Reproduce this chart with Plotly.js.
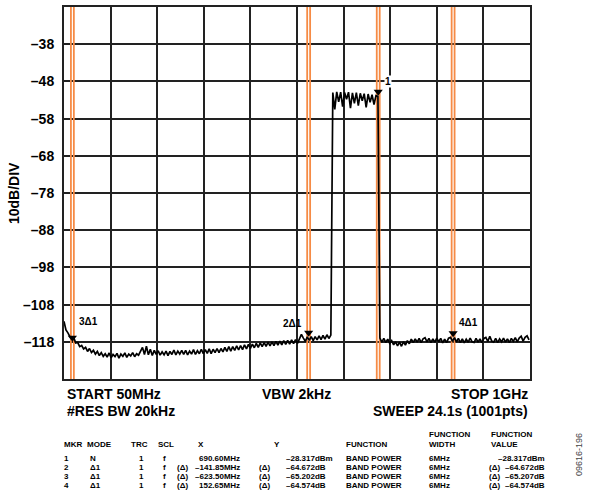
<!DOCTYPE html>
<html>
<head>
<meta charset="utf-8">
<script src="https://cdn.plot.ly/plotly-3.0.1.min.js"></script>
<style>html,body{margin:0;padding:0;background:#fff;}#chart{width:597px;height:498px;}</style>
</head>
<body>
<div id="chart"></div>
<script>
// ---- DATA ----
const sweepStartMHz = 50;
const sweepStopMHz = 1000;
const sweepStepMHz = 4;
const traceLevelDbm = [
  -112.5, -114.8, -115.6, -116.6, -116.9,
  -117.0, -118.3, -118.2, -119.3, -119.0, -119.9, -119.5, -120.6,
  -119.8, -120.9, -120.3, -121.3, -120.6, -121.7, -120.9, -121.9,
  -121.2, -122.1, -121.0, -122.3, -121.4, -122.0, -121.1, -122.4, -121.3, -121.9,
  -121.0, -122.2, -121.3, -121.8, -120.9, -122.0, -121.2, -121.6, -120.6, -119.5,
  -121.4, -119.2, -121.5, -120.0, -121.7, -120.3, -121.4, -120.4, -121.6, -120.7,
  -121.5, -120.5, -121.7, -120.6, -121.4, -120.2, -121.5, -120.5, -121.3, -120.3,
  -121.4, -120.3, -121.5, -120.5, -121.3, -120.1, -121.4, -120.4, -121.2, -120.0,
  -121.2, -120.1, -121.1, -119.9, -121.2, -120.0, -120.9, -119.8, -120.9, -119.8,
  -120.7, -119.5, -120.6, -119.3, -120.5, -119.3, -120.3, -119.1, -120.2, -119.0,
  -120.1, -118.8, -119.9, -118.7, -119.8, -118.6, -119.6, -118.4, -119.5, -118.3,
  -119.3, -118.2, -119.2, -118.1, -119.1, -118.0, -119.0, -117.9, -118.9, -117.8,
  -118.8, -117.7, -118.7, -117.6, -118.6, -117.5, -118.5, -117.4, -118.4, -117.3,
  -116.0, -117.0, -117.9, -116.7, -117.6, -116.6, -117.7, -116.6, -117.5, -116.4,
  -117.4, -116.3, -117.3, -116.1, -117.1, -116.2,
  -51.0, -55.5, -50.8, -53.5, -50.9, -54.8, -51.0, -52.8, -50.9, -55.2,
  -51.1, -53.9, -51.0, -54.5, -51.2, -53.2, -51.3, -55.0, -51.4, -53.6,
  -51.6, -54.2, -51.8, -52.0,
  -117.0, -118.1, -117.1, -118.2, -117.3, -118.4, -117.7, -118.8, -118.0, -119.1,
  -118.1, -119.2, -118.0, -118.9, -117.7, -118.5, -117.3, -118.2, -117.2, -118.1,
  -117.1, -118.2, -117.2, -116.9, -118.0, -117.1, -118.2, -117.2, -118.1, -117.0,
  -118.0, -117.1, -118.3, -117.3, -118.2, -117.0, -116.8, -117.9, -116.9, -118.0,
  -117.1, -118.2, -117.2, -118.3, -117.3, -118.1, -117.0, -118.0, -118.2, -117.1,
  -118.1, -117.2, -118.2, -117.1, -116.8, -117.9, -116.5, -117.8, -118.1, -117.1,
  -118.2, -117.2, -118.0, -117.0, -118.1, -117.2, -118.2, -117.1, -117.9, -116.9,
  -118.0, -117.0, -116.5, -117.8, -116.8, -116.4, -117.5
];
const refLevelDbm = -28;
const dbPerDiv = 10;
const yTickVals = [-38, -48, -58, -68, -78, -88, -98, -108, -118];
const yTickText = ['–38', '–48', '–58', '–68', '–78', '–88', '–98', '–108', '–118'];

const markerFreqMHz = [690.6, 548.75, 67.1, 843.25];
const markerLevelDbm = [-50.8, -115.6, -116.9, -115.7];
const markerLabels = ['1', '2Δ1', '3Δ1', '4Δ1'];
const bandWidthMHz = 6;

const infoLeft = ['START 50MHz', '#RES BW 20kHz'];
const infoCenter = ['VBW 2kHz'];
const infoRight = ['STOP 1GHz', 'SWEEP 24.1s (1001pts)'];

const tblMkr = ['1', '2', '3', '4'];
const tblMode = ['N', 'Δ1', 'Δ1', 'Δ1'];
const tblTrc = ['1', '1', '1', '1'];
const tblScl = ['f', 'f', 'f', 'f'];
const tblXDelta = ['', '(Δ)', '(Δ)', '(Δ)'];
const tblX = ['690.60MHz', '–141.85MHz', '–623.50MHz', '152.65MHz'];
const tblYDelta = ['', '(Δ)', '(Δ)', '(Δ)'];
const tblY = ['–28.317dBm', '–64.672dB', '–65.202dB', '–64.574dB'];
const tblFunc = ['BAND POWER', 'BAND POWER', 'BAND POWER', 'BAND POWER'];
const tblFWidth = ['6MHz', '6MHz', '6MHz', '6MHz'];
const tblFVDelta = ['', '(Δ)', '(Δ)', '(Δ)'];
const tblFValue = ['–28.317dBm', '–64.672dB', '–65.207dB', '–64.574dB'];
const figureId = '09616-196';

// ---- LAYOUT GEOMETRY ----
const W = 597, H = 498;
const L = 64, R = 530, T = 7, B = 379;
const px = x => (x - L) / (R - L);
const py = y => (B - y) / (B - T);

const freqMHz = traceLevelDbm.map((_, i) => sweepStartMHz + i * sweepStepMHz);
const yMin = refLevelDbm - 10 * dbPerDiv, yMax = refLevelDbm;

// band-power orange lines
const bx = [], by = [];
markerFreqMHz.forEach(f => {
  [f - bandWidthMHz / 2, f + bandWidthMHz / 2].forEach(v => {
    bx.push(v, v, null); by.push(yMin, yMax, null);
  });
});

const traces = [
  {x: bx, y: by, mode: 'lines', line: {color: '#f68b45', width: 1.8}, hoverinfo: 'skip', showlegend: false},
  {x: freqMHz, y: traceLevelDbm, mode: 'lines', line: {color: '#000', width: 1.7}, showlegend: false},
  {x: markerFreqMHz, y: markerLevelDbm, mode: 'markers',
   marker: {symbol: 'triangle-down', size: 8, color: '#000'}, showlegend: false}
];

const ann = [];
const bold = s => '<b>' + s + '</b>';
const F = 'Liberation Sans, Arial, sans-serif';

// marker labels
const mShift = [[10, 10], [-16, 9], [16, 16], [15, 11]];
markerLabels.forEach((t, i) => {
  ann.push({x: markerFreqMHz[i], y: markerLevelDbm[i], xref: 'x', yref: 'y', text: bold(t),
    showarrow: false, xshift: mShift[i][0], yshift: mShift[i][1],
    font: {family: F, size: 10, color: '#000'}, bgcolor: i === 0 ? '#fff' : 'rgba(0,0,0,0)', borderpad: 0});
});

// y title
ann.push({x: px(14), y: 0.5, xref: 'paper', yref: 'paper', text: bold('10dB/DIV'), textangle: -90,
  showarrow: false, xanchor: 'center', yanchor: 'middle', font: {family: F, size: 14, color: '#000'}});

// info rows below plot
const infoY = [394, 411];
infoLeft.forEach((t, i) => ann.push({x: px(65), y: py(infoY[i]), xref: 'paper', yref: 'paper', text: bold(t),
  showarrow: false, xanchor: 'left', yanchor: 'middle', font: {family: F, size: 14, color: '#000'}}));
infoCenter.forEach((t, i) => ann.push({x: px(296), y: py(infoY[i]), xref: 'paper', yref: 'paper', text: bold(t),
  showarrow: false, xanchor: 'center', yanchor: 'middle', font: {family: F, size: 14, color: '#000'}}));
infoRight.forEach((t, i) => ann.push({x: px(530), y: py(infoY[i]), xref: 'paper', yref: 'paper', text: bold(t),
  showarrow: false, xanchor: 'right', yanchor: 'middle', font: {family: F, size: 14, color: '#000'}}));

// table
const TS = 8;
function cell(t, x, y, anchor) {
  if (!t) return;
  ann.push({x: px(x), y: py(y), xref: 'paper', yref: 'paper', text: bold(t), showarrow: false,
    xanchor: anchor, yanchor: 'middle', font: {family: F, size: TS, color: '#000'}, borderpad: 0});
}
const hdrY = 444, hdrY2 = 434.5;
cell('MKR', 63, hdrY, 'left');
cell('MODE', 86, hdrY, 'left');
cell('TRC', 130, hdrY, 'left');
cell('SCL', 156.5, hdrY, 'left');
cell('X', 196.5, hdrY, 'left');
cell('Y', 272.5, hdrY, 'left');
cell('FUNCTION', 345, hdrY, 'left');
cell('FUNCTION', 427.5, hdrY2, 'left');
cell('WIDTH', 427.5, hdrY, 'left');
cell('FUNCTION', 490, hdrY2, 'left');
cell('VALUE', 490, hdrY, 'left');
const rowY = [458, 467, 476, 485];
rowY.forEach((y, i) => {
  cell(tblMkr[i], 63, y, 'left');
  cell(tblMode[i], 89, y, 'left');
  cell(tblTrc[i], 141, y, 'center');
  cell(tblScl[i], 164, y, 'center');
  cell(tblXDelta[i], 176, y, 'left');
  cell(tblX[i], 241, y, 'right');
  cell(tblYDelta[i], 258, y, 'left');
  cell(tblY[i], 285, y, 'left');
  cell(tblFunc[i], 345, y, 'left');
  cell(tblFWidth[i], 427.5, y, 'left');
  cell(tblFVDelta[i], 488, y, 'left');
  cell(tblFValue[i], 546, y, 'right');
});

ann.push({x: px(579), y: py(455), xref: 'paper', yref: 'paper', text: figureId, textangle: -90,
  showarrow: false, xanchor: 'center', yanchor: 'middle', font: {family: F, size: 9, color: '#444'}});

const layout = {
  width: W, height: H,
  margin: {l: L, r: W - R, t: T, b: H - B, pad: 0},
  paper_bgcolor: '#fff', plot_bgcolor: '#fff',
  showlegend: false,
  xaxis: {range: [sweepStartMHz, sweepStopMHz], tickmode: 'linear', tick0: sweepStartMHz,
    dtick: (sweepStopMHz - sweepStartMHz) / 10, showticklabels: false, ticks: '',
    showgrid: true, gridcolor: '#222', gridwidth: 2, zeroline: false,
    showline: true, mirror: true, linecolor: '#222', linewidth: 2, fixedrange: true},
  yaxis: {range: [yMin, yMax], tickmode: 'array', tickvals: yTickVals, ticktext: yTickText.map(bold),
    ticks: '', ticklabelstandoff: 5,
    tickfont: {family: F, size: 14, color: '#000'},
    showgrid: true, gridcolor: '#222', gridwidth: 2, zeroline: false,
    showline: true, mirror: true, linecolor: '#222', linewidth: 2, fixedrange: true},
  annotations: ann
};

Plotly.newPlot('chart', traces, layout, {staticPlot: true, displayModeBar: false});
</script>
</body>
</html>
